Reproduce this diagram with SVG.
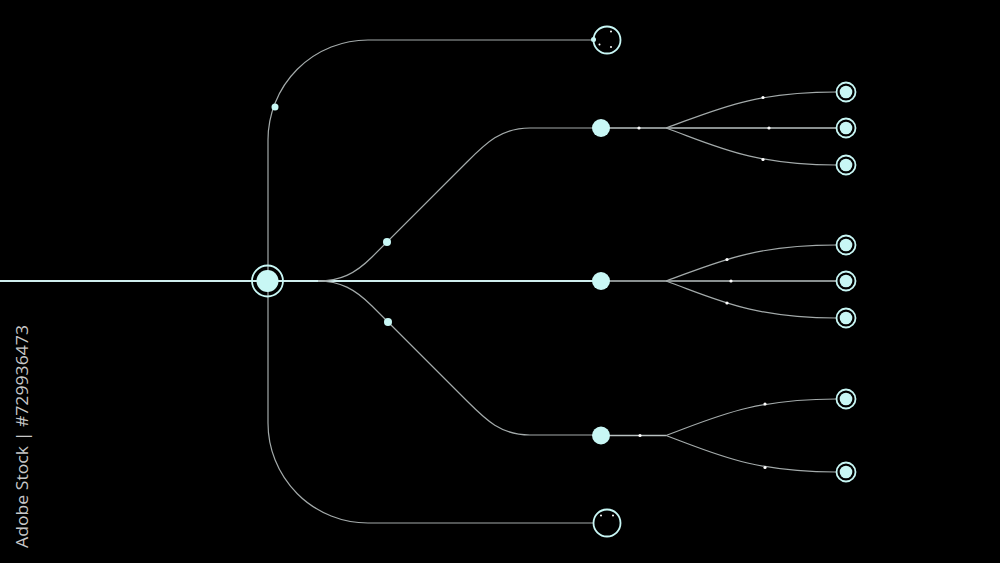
<svg xmlns="http://www.w3.org/2000/svg" width="1000" height="563" viewBox="0 0 1000 563">
<style>
.main{fill:none;stroke:#cfeeee;stroke-width:2}
.ln{fill:none;stroke:#a3aaaa;stroke-width:1.2}
.lnb{fill:none;stroke:#b8c0c0;stroke-width:1.4}
.node{fill:#c8f7f5}
.ring{fill:none;stroke:#c8f7f5;stroke-width:1.8}
.tip{fill:#e8ffff}
.spk{fill:#ffffff}
.wm{font-family:"Open Sans","Liberation Sans",sans-serif;font-size:17px;fill:#c8c8c8}
</style>
<rect x="0" y="0" width="1000" height="563" fill="#000"/>
<g id="connectors">
  <path class="main" d="M0 281 H601"/>
  <path class="ln" d="M268 140 V423"/>
  <path class="ln" d="M268 140 A100 100 0 0 1 368 40 H594"/>
  <path class="ln" d="M268 423 A100 100 0 0 0 368 523 H593"/>
  <path class="ln" d="M318 281 C340 281 355 274 372 257 L466 163 C485 144 500 128 530 128 H601"/>
  <path class="ln" d="M318 281 C340 281 355 289 372 306 L466 400 C485 419 500 435 530 435 H601"/>
  <path class="lnb" d="M601 128 H836"/>
  <path class="ln" d="M666 128 C716 110 752 92 836 92"/>
  <path class="ln" d="M666 128 C716 146 752 165 836 165"/>
  <path class="lnb" d="M601 281 H836"/>
  <path class="ln" d="M666 281 C716 263 752 245 836 245"/>
  <path class="ln" d="M666 281 C716 299 752 318 836 318"/>
  <path class="lnb" d="M601 435.5 H666"/>
  <path class="ln" d="M666 435.5 C716 417 752 399 836 399"/>
  <path class="ln" d="M666 435.5 C716 454 752 472 836 472"/>
</g>
<g id="hub">
  <circle class="ring" cx="267.5" cy="281" r="15.5" stroke-width="2.2"/>
  <circle class="node" cx="267.5" cy="281" r="11"/>
</g>
<g id="dots">
  <circle class="node" cx="275" cy="107" r="3.5"/>
  <circle class="node" cx="387" cy="242" r="4"/>
  <circle class="node" cx="388" cy="322" r="4"/>
  <circle class="spk" cx="639" cy="128" r="1.6"/>
  <circle class="spk" cx="763" cy="97.5" r="1.6"/>
  <circle class="spk" cx="769" cy="128" r="1.6"/>
  <circle class="spk" cx="763" cy="159.5" r="1.6"/>
  <circle class="spk" cx="727" cy="259.5" r="1.6"/>
  <circle class="spk" cx="731" cy="281" r="1.6"/>
  <circle class="spk" cx="727" cy="303" r="1.6"/>
  <circle class="spk" cx="640" cy="435.5" r="1.6"/>
  <circle class="spk" cx="765" cy="404" r="1.6"/>
  <circle class="spk" cx="765" cy="467.5" r="1.6"/>
</g>
<g id="node-top-ring">
  <circle class="ring" cx="607" cy="40" r="13.5" stroke-width="2.2"/>
  <circle class="node" cx="593.5" cy="39.5" r="2.5"/>
  <circle class="spk" cx="611" cy="31.5" r="1"/>
  <circle class="spk" cx="599.5" cy="44.5" r="1"/>
  <circle class="spk" cx="611" cy="47" r="1"/>
</g>
<g id="node-bottom-ring">
  <circle class="ring" cx="607" cy="523" r="13.5" stroke-width="2.2"/>
  <circle class="spk" cx="601" cy="515.5" r="1"/>
  <circle class="spk" cx="613" cy="515.5" r="1"/>
</g>
<g id="node-upper"><circle class="node" cx="601" cy="128" r="9"/></g>
<g id="node-middle"><circle class="node" cx="601" cy="281" r="9"/></g>
<g id="node-lower"><circle class="node" cx="601" cy="435.5" r="9"/></g>
<g id="leaf-1"><circle class="ring" cx="846" cy="92" r="9.5"/><circle class="node" cx="846" cy="92" r="6.3"/></g>
<g id="leaf-2"><circle class="ring" cx="846" cy="128" r="9.5"/><circle class="node" cx="846" cy="128" r="6.3"/></g>
<g id="leaf-3"><circle class="ring" cx="846" cy="165" r="9.5"/><circle class="node" cx="846" cy="165" r="6.3"/></g>
<g id="leaf-4"><circle class="ring" cx="846" cy="245" r="9.5"/><circle class="node" cx="846" cy="245" r="6.3"/></g>
<g id="leaf-5"><circle class="ring" cx="846" cy="281" r="9.5"/><circle class="node" cx="846" cy="281" r="6.3"/></g>
<g id="leaf-6"><circle class="ring" cx="846" cy="318" r="9.5"/><circle class="node" cx="846" cy="318" r="6.3"/></g>
<g id="leaf-7"><circle class="ring" cx="846" cy="399" r="9.5"/><circle class="node" cx="846" cy="399" r="6.3"/></g>
<g id="leaf-8"><circle class="ring" cx="846" cy="472" r="9.5"/><circle class="node" cx="846" cy="472" r="6.3"/></g>
<text class="wm" transform="translate(28,548) rotate(-90)" textLength="223" lengthAdjust="spacingAndGlyphs">Adobe Stock | #729936473</text>
</svg>
